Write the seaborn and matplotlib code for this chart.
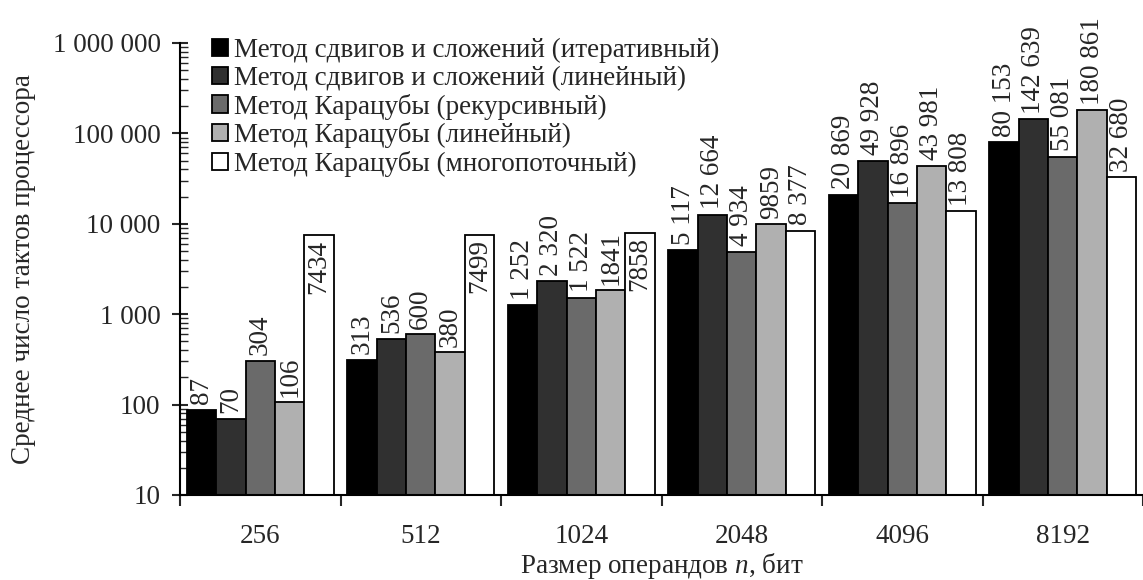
import matplotlib
matplotlib.use("Agg")
import matplotlib.pyplot as plt
from matplotlib.patches import Patch
from matplotlib.ticker import FixedLocator, LogLocator, NullFormatter, FixedFormatter
import seaborn as sns
import pandas as pd
import numpy as np

# ---- data ----
sizes = ["256", "512", "1024", "2048", "4096", "8192"]
methods = [
    "Метод сдвигов и сложений (итеративный)",
    "Метод сдвигов и сложений (линейный)",
    "Метод Карацубы (рекурсивный)",
    "Метод Карацубы (линейный)",
    "Метод Карацубы (многопоточный)",
]
shift_iter = [87, 313, 1252, 5117, 20869, 80153]
shift_lin = [70, 536, 2320, 12664, 49928, 142639]
kar_rec = [304, 600, 1522, 4934, 16896, 55081]
kar_lin = [106, 380, 1841, 9859, 43981, 180861]
kar_mt = [7434, 7499, 7858, 8377, 13808, 32680]

labels_shift_iter = ["87", "313", "1 252", "5 117", "20 869", "80 153"]
labels_shift_lin = ["70", "536", "2 320", "12 664", "49 928", "142 639"]
labels_kar_rec = ["304", "600", "1 522", "4 934", "16 896", "55 081"]
labels_kar_lin = ["106", "380", "1841", "9859", "43 981", "180 861"]
labels_kar_mt = ["7434", "7499", "7858", "8 377", "13 808", "32 680"]

y_ticks = [10, 100, 1000, 10000, 100000, 1000000]
y_tick_labels = ["10", "100", "1 000", "10 000", "100 000", "1 000 000"]

series = [shift_iter, shift_lin, kar_rec, kar_lin, kar_mt]
series_labels = [labels_shift_iter, labels_shift_lin, labels_kar_rec,
                 labels_kar_lin, labels_kar_mt]
colors = ["#000000", "#303030", "#6a6a6a", "#b0b0b0", "#ffffff"]

rows = []
for m, vals in zip(methods, series):
    for s, v in zip(sizes, vals):
        rows.append({"size": s, "method": m, "value": v})
df = pd.DataFrame(rows)

# ---- style ----
sns.set_style("ticks")
plt.rcParams["font.family"] = ["Liberation Serif", "DejaVu Serif"]
plt.rcParams["mathtext.fontset"] = "custom"
plt.rcParams["mathtext.rm"] = "Liberation Serif"
plt.rcParams["mathtext.it"] = "Liberation Serif:italic"
FS = 19.5

fig = plt.figure(figsize=(11.43, 5.80), dpi=100)
ax = fig.add_axes([0.1575, 0.1466, 0.8425, 0.7793])

sns.barplot(data=df, x="size", y="value", hue="method", order=sizes,
            hue_order=methods, palette=colors, width=0.915, gap=0,
            errorbar=None, edgecolor="black", linewidth=1.3,
            legend=False, ax=ax)
ax.set_yscale("log")
ax.set_ylim(10, 1000000)
ax.set_xlim(-0.5, 5.5)

# bar value labels
inside = {(4, 0), (4, 1), (4, 2)}
for si, cont in enumerate(ax.containers):
    for ci, bar in enumerate(cont):
        xc = bar.get_x() + bar.get_width() / 2
        top = bar.get_y() + bar.get_height()
        if (si, ci) in inside:
            ax.annotate(series_labels[si][ci], (xc, top), xytext=(0, -3),
                        textcoords="offset points", rotation=90,
                        ha="center", va="top", fontsize=FS)
        else:
            ax.annotate(series_labels[si][ci], (xc, top), xytext=(0, 4),
                        textcoords="offset points", rotation=90,
                        ha="center", va="bottom", fontsize=FS)

# axes styling
for sp in ["top", "right"]:
    ax.spines[sp].set_visible(False)
for sp in ["left", "bottom"]:
    ax.spines[sp].set_linewidth(1.5)
    ax.spines[sp].set_color("black")

ax.yaxis.set_major_locator(FixedLocator(y_ticks))
ax.yaxis.set_major_formatter(FixedFormatter(y_tick_labels))
ax.yaxis.set_minor_locator(LogLocator(base=10, subs=np.arange(2, 10)))
ax.yaxis.set_minor_formatter(NullFormatter())
ax.tick_params(axis="y", which="major", direction="inout", length=12,
               width=1.5, labelsize=FS, pad=8)
ax.tick_params(axis="y", which="minor", direction="in", length=6, width=1.0)

ax.xaxis.set_minor_locator(FixedLocator(np.arange(-0.5, 6.0, 1.0)))
ax.tick_params(axis="x", which="major", length=0, labelsize=FS, pad=21)
ax.tick_params(axis="x", which="minor", direction="out", length=8, width=1.5)

ax.set_xlabel(r"Размер операндов $\it{n}$, бит", fontsize=FS, labelpad=1)
ax.set_ylabel("Среднее число тактов процессора", fontsize=FS, labelpad=12)

handles = [Patch(facecolor=c, edgecolor="black", linewidth=1.3) for c in colors]
ax.legend(handles, methods, loc="upper left", bbox_to_anchor=(0.022, 1.035),
          frameon=False, fontsize=FS, handlelength=0.6, handleheight=0.6,
          handletextpad=0.2, labelspacing=0.1, borderaxespad=0)

fig.savefig("out.png", dpi=100)
